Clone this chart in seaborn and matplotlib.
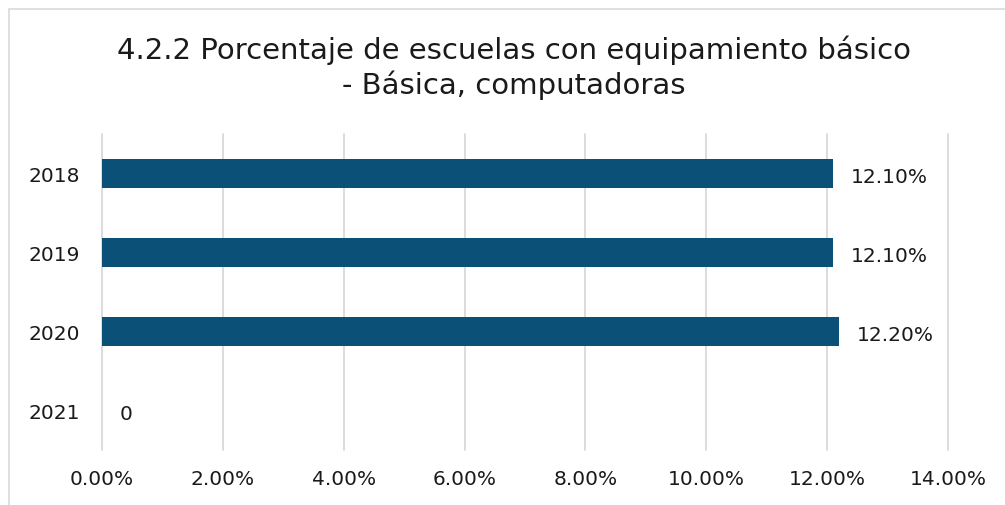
import matplotlib
matplotlib.use("Agg")
import matplotlib.pyplot as plt
import seaborn as sns
import pandas as pd
from matplotlib.patches import Rectangle
from matplotlib.ticker import FuncFormatter

years = ["2018", "2019", "2020", "2021"]
values = [12.1, 12.1, 12.2, 0.0]
labels = ["12.10%", "12.10%", "12.20%", "0"]
title = "4.2.2 Porcentaje de escuelas con equipamiento básico\n- Básica, computadoras"

sns.set_theme(style="white")
plt.rcParams["font.family"] = ["DejaVu Sans"]

W, H = 1005, 506
fig = plt.figure(figsize=(W / 100, H / 100), dpi=100)
fig.patch.set_facecolor("white")
fig.add_artist(Rectangle((9 / W, -0.2), 1.2, 1.2 - 10 / H, transform=fig.transFigure,
                         fill=False, edgecolor="#d9d9d9", linewidth=1.2))

ax = fig.add_axes([102 / W, 1 - 451 / H, (948 - 102) / W, (451 - 135) / H])
df = pd.DataFrame({"year": years, "value": values})
sns.barplot(data=df, x="value", y="year", orient="h", color="#0B5177",
            width=0.36, ax=ax, order=years, saturation=1, linewidth=0)

ax.set_xlim(0, 14)
ax.set_xticks([0, 2, 4, 6, 8, 10, 12, 14])
ax.xaxis.set_major_formatter(FuncFormatter(lambda v, p: f"{v:.2f}%"))
ax.grid(axis="x", color="#d9d9d9", linewidth=1.3)
for gl in ax.get_xgridlines():
    gl.set_clip_on(False)
ax.set_axisbelow(True)
for s in ax.spines.values():
    s.set_visible(False)
ax.set_xlabel("")
ax.set_ylabel("")
ax.tick_params(axis="both", length=0, labelsize=14.5, labelcolor="#1a1a1a")
ax.tick_params(axis="x", pad=14)
ax.tick_params(axis="y", pad=16)

for i, (v, lab) in enumerate(zip(values, labels)):
    ax.annotate(lab, (v, i), xytext=(18, -3), textcoords="offset pixels",
                va="center", ha="left", fontsize=14.5, color="#1a1a1a")

fig.text(514 / W, 1 - 68 / H, title, ha="center", va="center", fontsize=21,
         color="#1a1a1a", linespacing=1.25)

fig.savefig("out.png", dpi=100, facecolor="white")
